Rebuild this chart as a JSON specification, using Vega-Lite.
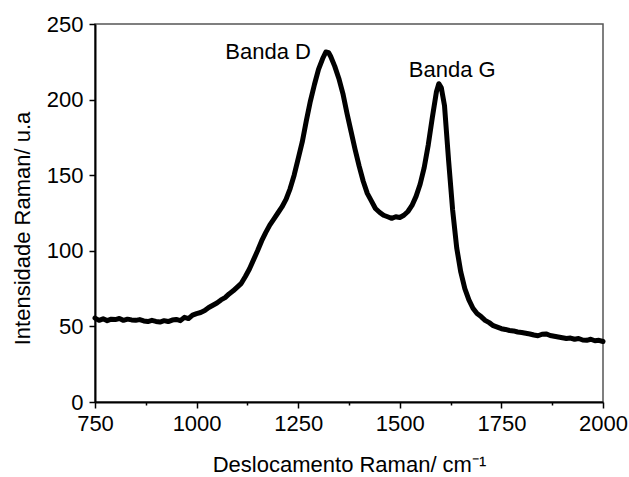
{
  "$schema": "https://vega.github.io/schema/vega-lite/v6.json",
  "width": 508,
  "height": 378,
  "autosize": {"type": "none"},
  "padding": {"left": 95, "top": 24, "right": 26, "bottom": 75},
  "background": "white",
  "config": {
    "view": {"stroke": "#555555", "strokeWidth": 1.5},
    "font": "Liberation Sans",
    "axis": {
      "domainColor": "black",
      "domainWidth": 2,
      "tickColor": "black",
      "tickWidth": 1.5,
      "labelColor": "black",
      "labelFont": "Liberation Sans",
      "labelFontSize": 22,
      "titleFont": "Liberation Sans",
      "titleFontSize": 22,
      "titleFontWeight": "normal",
      "titleColor": "black",
      "grid": false
    }
  },
  "datasets": {
    "spec": [
      {"shift": 750, "intensity": 55.5}, {"shift": 760, "intensity": 54.0}, {"shift": 770, "intensity": 55.0},
      {"shift": 780, "intensity": 53.8}, {"shift": 790, "intensity": 54.8}, {"shift": 800, "intensity": 54.5},
      {"shift": 810, "intensity": 55.2}, {"shift": 820, "intensity": 54.0}, {"shift": 830, "intensity": 54.8},
      {"shift": 840, "intensity": 54.3}, {"shift": 850, "intensity": 54.0}, {"shift": 860, "intensity": 54.5},
      {"shift": 870, "intensity": 53.6}, {"shift": 880, "intensity": 53.2}, {"shift": 890, "intensity": 54.0},
      {"shift": 900, "intensity": 53.3}, {"shift": 910, "intensity": 52.9}, {"shift": 920, "intensity": 53.8},
      {"shift": 930, "intensity": 53.2}, {"shift": 940, "intensity": 54.2}, {"shift": 950, "intensity": 54.6},
      {"shift": 960, "intensity": 53.8}, {"shift": 970, "intensity": 56.0}, {"shift": 980, "intensity": 55.2},
      {"shift": 990, "intensity": 57.5}, {"shift": 1000, "intensity": 58.5}, {"shift": 1010, "intensity": 59.2},
      {"shift": 1020, "intensity": 60.5}, {"shift": 1030, "intensity": 62.5}, {"shift": 1040, "intensity": 64.0},
      {"shift": 1050, "intensity": 65.5}, {"shift": 1060, "intensity": 67.5}, {"shift": 1070, "intensity": 69.0},
      {"shift": 1080, "intensity": 71.5}, {"shift": 1090, "intensity": 73.5}, {"shift": 1100, "intensity": 76.0},
      {"shift": 1110, "intensity": 78.5}, {"shift": 1120, "intensity": 83.0}, {"shift": 1130, "intensity": 88.0},
      {"shift": 1140, "intensity": 94.0}, {"shift": 1150, "intensity": 100.0}, {"shift": 1160, "intensity": 106.5},
      {"shift": 1170, "intensity": 112.0}, {"shift": 1180, "intensity": 117.0}, {"shift": 1190, "intensity": 121.0},
      {"shift": 1200, "intensity": 125.0}, {"shift": 1210, "intensity": 129.0}, {"shift": 1220, "intensity": 134.0},
      {"shift": 1230, "intensity": 141.0}, {"shift": 1240, "intensity": 150.0}, {"shift": 1250, "intensity": 161.0},
      {"shift": 1260, "intensity": 172.0}, {"shift": 1270, "intensity": 186.0}, {"shift": 1280, "intensity": 199.0},
      {"shift": 1290, "intensity": 210.0}, {"shift": 1300, "intensity": 220.0}, {"shift": 1310, "intensity": 227.0},
      {"shift": 1318, "intensity": 231.5}, {"shift": 1325, "intensity": 231.0}, {"shift": 1330, "intensity": 228.5},
      {"shift": 1340, "intensity": 222.0}, {"shift": 1350, "intensity": 214.0}, {"shift": 1360, "intensity": 204.0},
      {"shift": 1370, "intensity": 191.0}, {"shift": 1380, "intensity": 179.0}, {"shift": 1390, "intensity": 167.0},
      {"shift": 1400, "intensity": 156.0}, {"shift": 1410, "intensity": 146.0}, {"shift": 1420, "intensity": 138.0},
      {"shift": 1430, "intensity": 133.0}, {"shift": 1440, "intensity": 128.0}, {"shift": 1450, "intensity": 125.5},
      {"shift": 1460, "intensity": 123.5}, {"shift": 1470, "intensity": 122.5}, {"shift": 1480, "intensity": 121.5},
      {"shift": 1490, "intensity": 122.5}, {"shift": 1500, "intensity": 122.0}, {"shift": 1510, "intensity": 123.5},
      {"shift": 1520, "intensity": 126.0}, {"shift": 1530, "intensity": 130.0}, {"shift": 1540, "intensity": 136.0},
      {"shift": 1550, "intensity": 144.0}, {"shift": 1560, "intensity": 155.0}, {"shift": 1570, "intensity": 170.0},
      {"shift": 1580, "intensity": 188.0}, {"shift": 1590, "intensity": 205.0}, {"shift": 1596, "intensity": 210.5},
      {"shift": 1602, "intensity": 208.0}, {"shift": 1610, "intensity": 196.0}, {"shift": 1620, "intensity": 160.0},
      {"shift": 1630, "intensity": 127.0}, {"shift": 1640, "intensity": 102.0}, {"shift": 1650, "intensity": 86.0},
      {"shift": 1660, "intensity": 75.0}, {"shift": 1670, "intensity": 67.5}, {"shift": 1680, "intensity": 62.0},
      {"shift": 1690, "intensity": 58.5}, {"shift": 1700, "intensity": 56.5}, {"shift": 1710, "intensity": 54.0},
      {"shift": 1720, "intensity": 52.5}, {"shift": 1730, "intensity": 50.5}, {"shift": 1740, "intensity": 49.5},
      {"shift": 1750, "intensity": 48.5}, {"shift": 1760, "intensity": 48.0}, {"shift": 1770, "intensity": 47.3},
      {"shift": 1780, "intensity": 47.0}, {"shift": 1790, "intensity": 46.3}, {"shift": 1800, "intensity": 46.0},
      {"shift": 1810, "intensity": 45.5}, {"shift": 1820, "intensity": 45.0}, {"shift": 1830, "intensity": 44.3},
      {"shift": 1840, "intensity": 43.8}, {"shift": 1850, "intensity": 44.8}, {"shift": 1860, "intensity": 45.0},
      {"shift": 1870, "intensity": 44.0}, {"shift": 1880, "intensity": 43.5}, {"shift": 1890, "intensity": 43.0},
      {"shift": 1900, "intensity": 42.5}, {"shift": 1910, "intensity": 42.0}, {"shift": 1920, "intensity": 42.3},
      {"shift": 1930, "intensity": 41.5}, {"shift": 1940, "intensity": 42.0}, {"shift": 1950, "intensity": 41.0},
      {"shift": 1960, "intensity": 40.8}, {"shift": 1970, "intensity": 41.5}, {"shift": 1980, "intensity": 40.5},
      {"shift": 1990, "intensity": 40.8}, {"shift": 2000, "intensity": 40.0}
    ],
    "labels": [
      {"shift": 1176, "intensity": 231.5, "text": "Banda D"},
      {"shift": 1629, "intensity": 219.6, "text": "Banda G"}
    ]
  },
  "layer": [
    {
      "data": {"name": "spec"},
      "mark": {"type": "line", "color": "black", "strokeWidth": 5, "strokeJoin": "round", "strokeCap": "round"},
      "encoding": {
        "x": {
          "field": "shift", "type": "quantitative",
          "scale": {"domain": [750, 2000], "nice": false, "zero": false},
          "axis": {
            "title": "Deslocamento Raman/ cm⁻¹",
            "values": [750, 875, 1000, 1125, 1250, 1375, 1500, 1625, 1750, 1875, 2000],
            "labelExpr": "datum.value % 250 === 0 ? datum.label : ''",
            "format": "d",
            "tickSize": {"condition": {"test": "datum.value % 250 !== 0", "value": 3}, "value": 6},
            "labelPadding": 5,
            "titlePadding": 20,
            "labelFlush": false,
            "labelOverlap": false
          }
        },
        "y": {
          "field": "intensity", "type": "quantitative",
          "scale": {"domain": [0, 250], "nice": false},
          "axis": {
            "title": "Intensidade Raman/ u.a",
            "values": [0, 25, 50, 75, 100, 125, 150, 175, 200, 225, 250],
            "labelExpr": "datum.value % 50 === 0 ? datum.label : ''",
            "tickSize": {"condition": {"test": "datum.value % 50 !== 0", "value": 3}, "value": 6},
            "labelPadding": 6,
            "titlePadding": 12,
            "titleY": 204,
            "labelFlush": false,
            "labelOverlap": false
          }
        }
      }
    },
    {
      "data": {"name": "labels"},
      "mark": {"type": "text", "fontSize": 22, "font": "Liberation Sans", "color": "black", "align": "center", "baseline": "middle"},
      "encoding": {
        "x": {"field": "shift", "type": "quantitative"},
        "y": {"field": "intensity", "type": "quantitative"},
        "text": {"field": "text"}
      }
    }
  ]
}
